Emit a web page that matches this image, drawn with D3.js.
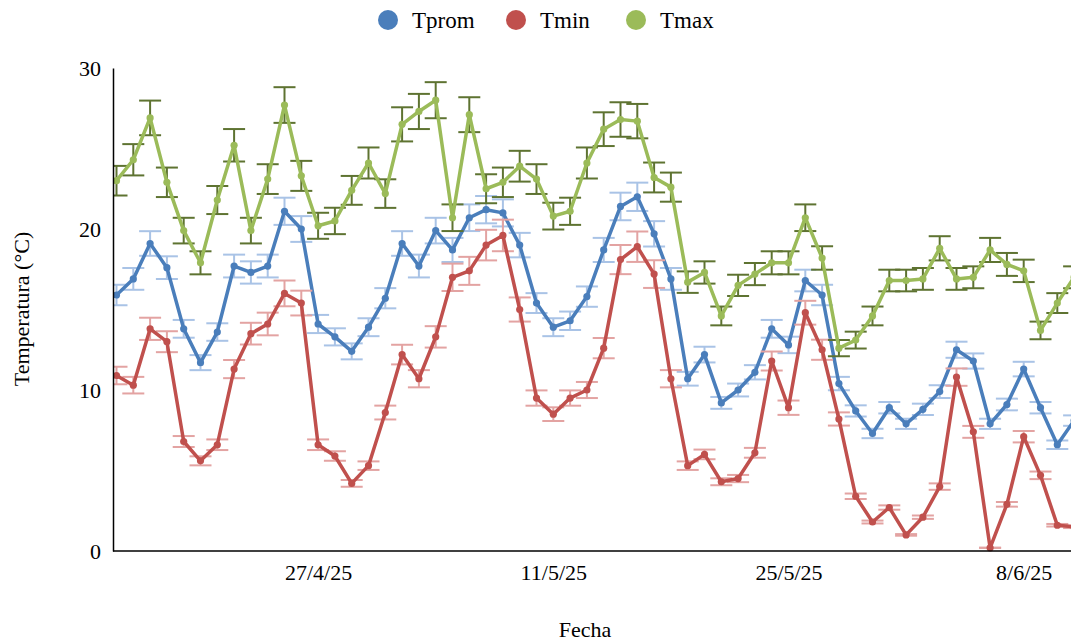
<!DOCTYPE html>
<html>
<head>
<meta charset="utf-8">
<script src="https://cdn.jsdelivr.net/npm/d3@7"></script>
<style>
  html, body { margin: 0; padding: 0; background: #fff; }
  svg { display: block; font-family: "Liberation Serif", "DejaVu Serif", serif; }
</style>
</head>
<body>
<svg id="chart" width="1071" height="644"></svg>
<script>
// Daily dates (15/4/25 – 11/6/25)
const fechas = [
  "2025-04-15","2025-04-16","2025-04-17","2025-04-18","2025-04-19","2025-04-20","2025-04-21","2025-04-22",
  "2025-04-23","2025-04-24","2025-04-25","2025-04-26","2025-04-27","2025-04-28","2025-04-29","2025-04-30",
  "2025-05-01","2025-05-02","2025-05-03","2025-05-04","2025-05-05","2025-05-06","2025-05-07","2025-05-08",
  "2025-05-09","2025-05-10","2025-05-11","2025-05-12","2025-05-13","2025-05-14","2025-05-15","2025-05-16",
  "2025-05-17","2025-05-18","2025-05-19","2025-05-20","2025-05-21","2025-05-22","2025-05-23","2025-05-24",
  "2025-05-25","2025-05-26","2025-05-27","2025-05-28","2025-05-29","2025-05-30","2025-05-31","2025-06-01",
  "2025-06-02","2025-06-03","2025-06-04","2025-06-05","2025-06-06","2025-06-07","2025-06-08","2025-06-09",
  "2025-06-10","2025-06-11"
];

// Mean temperature (°C)
const tprom = [
  15.9,16.9,19.1,17.6,13.8,11.7,13.6,17.7,17.3,17.7,21.1,20.0,14.1,13.3,
  12.4,13.9,15.7,19.1,17.7,19.9,18.7,20.7,21.2,21.0,19.0,15.4,13.9,14.3,15.8,
  18.7,21.4,22.0,19.7,16.9,10.7,12.2,9.2,10.0,11.1,13.8,12.8,16.8,15.9,
  10.4,8.7,7.3,8.9,7.9,8.8,9.9,12.5,11.8,7.9,9.1,11.3,8.9,6.6,8.1
];

// Minimum temperature (°C)
const tmin = [
  10.9,10.3,13.8,13.0,6.8,5.6,6.6,11.3,13.5,14.1,16.0,15.4,6.6,5.9,
  4.2,5.3,8.6,12.2,10.7,13.3,17.0,17.4,19.0,19.6,15.0,9.5,8.5,9.5,10.0,
  12.6,18.1,18.9,17.2,10.7,5.3,6.0,4.3,4.5,6.1,11.8,8.9,14.8,12.5,
  8.2,3.4,1.8,2.7,1.0,2.1,4.0,10.8,7.4,0.2,2.9,7.1,4.7,1.6,1.5
];

// Maximum temperature (°C)
const tmax = [
  23.0,24.3,26.9,22.9,19.9,17.9,21.8,25.2,19.9,23.1,27.7,23.3,20.2,20.5,
  22.4,24.1,22.2,26.5,27.3,28.0,20.7,27.1,22.5,22.9,23.9,23.1,20.8,21.1,24.1,
  26.2,26.8,26.7,23.2,22.6,16.7,17.3,14.6,16.5,17.2,17.9,17.9,20.7,18.2,
  12.6,13.1,14.6,16.8,16.8,16.9,18.8,16.9,17.0,18.7,17.8,17.4,13.7,15.4,17.0
];

// Percentage error amount per series
const errorPct = { Tprom: 0.04, Tmin: 0.05, Tmax: 0.04 };

const yTicks = [0, 10, 20, 30];
const xTickDates = ["2025-04-27", "2025-05-11", "2025-05-25", "2025-06-08"];

const parse = d3.utcParse("%Y-%m-%d");
const fmt = d3.utcFormat("%-d/%-m/%y");
const dates = fechas.map(parse);

const series = [
  { name: "Tprom", values: tprom, line: "#4a7ebb", bar: "#a9c3e6" },
  { name: "Tmin",  values: tmin,  line: "#c0504d", bar: "#e3a3a2" },
  { name: "Tmax",  values: tmax,  line: "#9bbb59", bar: "#5e7331" }
];

const svg = d3.select("#chart");
const W = 1071;
const FONT = "Liberation Serif, serif";

// Plot frame
const plotLeft = 113, plotTop = 68, plotBottom = 551;
const dayPx = 16.8;
const leadHours = 5;
const spanDays = 60;
const x0 = d3.utcHour.offset(dates[0], -leadHours);
const x1 = d3.utcDay.offset(x0, spanDays);
const x = d3.scaleUtc().domain([x0, x1]).range([plotLeft, plotLeft + spanDays * dayPx]);
const y = d3.scaleLinear().domain([0, 30]).range([plotBottom, plotTop]);

svg.append("defs").append("clipPath").attr("id", "plotclip")
  .append("rect").attr("x", plotLeft).attr("y", 0).attr("width", W - plotLeft).attr("height", 600);

const plot = svg.append("g").attr("clip-path", "url(#plotclip)");

const capHalf = 11;
series.forEach(s => {
  const g = plot.append("g");
  const pct = errorPct[s.name];
  const pts = s.values.map((v, i) => ({ d: dates[i], v, e: v * pct }));

  // error bars
  const eb = g.append("g").attr("stroke", s.bar).attr("stroke-width", 2).attr("fill", "none");
  pts.forEach(p => {
    const cx = x(p.d), yt = y(p.v + p.e), yb = y(p.v - p.e);
    eb.append("line").attr("x1", cx).attr("x2", cx).attr("y1", yt).attr("y2", yb);
    eb.append("line").attr("x1", cx - capHalf).attr("x2", cx + capHalf).attr("y1", yt).attr("y2", yt);
    eb.append("line").attr("x1", cx - capHalf).attr("x2", cx + capHalf).attr("y1", yb).attr("y2", yb);
  });

  // line
  g.append("path").datum(pts)
    .attr("fill", "none").attr("stroke", s.line).attr("stroke-width", 3.5)
    .attr("stroke-linejoin", "round")
    .attr("d", d3.line().x(p => x(p.d)).y(p => y(p.v)));

  // markers
  g.selectAll("circle").data(pts).join("circle")
    .attr("cx", p => x(p.d)).attr("cy", p => y(p.v)).attr("r", 3.6)
    .attr("fill", s.line);
});

// Axes
const xAxis = d3.axisBottom(x)
  .tickValues(xTickDates.map(parse))
  .tickFormat(fmt).tickSize(0).tickPadding(13);
const gx = svg.append("g").attr("transform", `translate(0,${plotBottom})`).call(xAxis);
gx.select(".domain").attr("d", `M${plotLeft},0H${W}`).attr("stroke", "#000").attr("stroke-width", 1.5);
gx.selectAll("text").attr("font-size", 22).attr("fill", "#000").attr("font-family", FONT);

const yAxis = d3.axisLeft(y).tickValues(yTicks).tickFormat(d3.format("d")).tickSize(0).tickPadding(12);
const gy = svg.append("g").attr("transform", `translate(${plotLeft},0)`).call(yAxis);
gy.select(".domain").attr("stroke", "#000").attr("stroke-width", 1.5);
gy.selectAll("text").attr("font-size", 22).attr("fill", "#000").attr("font-family", FONT);

// Axis titles
svg.append("text")
  .attr("transform", `translate(29,309) rotate(-90)`)
  .attr("text-anchor", "middle").attr("font-size", 22).attr("fill", "#000")
  .text("Temperatura (°C)");
svg.append("text")
  .attr("x", 585).attr("y", 637)
  .attr("text-anchor", "middle").attr("font-size", 22).attr("fill", "#000")
  .text("Fecha");

// Legend
const legendX = [388, 516, 636];
const lg = svg.append("g");
series.forEach((s, i) => {
  lg.append("circle").attr("cx", legendX[i]).attr("cy", 20).attr("r", 10).attr("fill", s.line);
  lg.append("text").attr("x", legendX[i] + 24).attr("y", 28)
    .attr("font-size", 23).attr("fill", "#000").text(s.name);
});
</script>
</body>
</html>
